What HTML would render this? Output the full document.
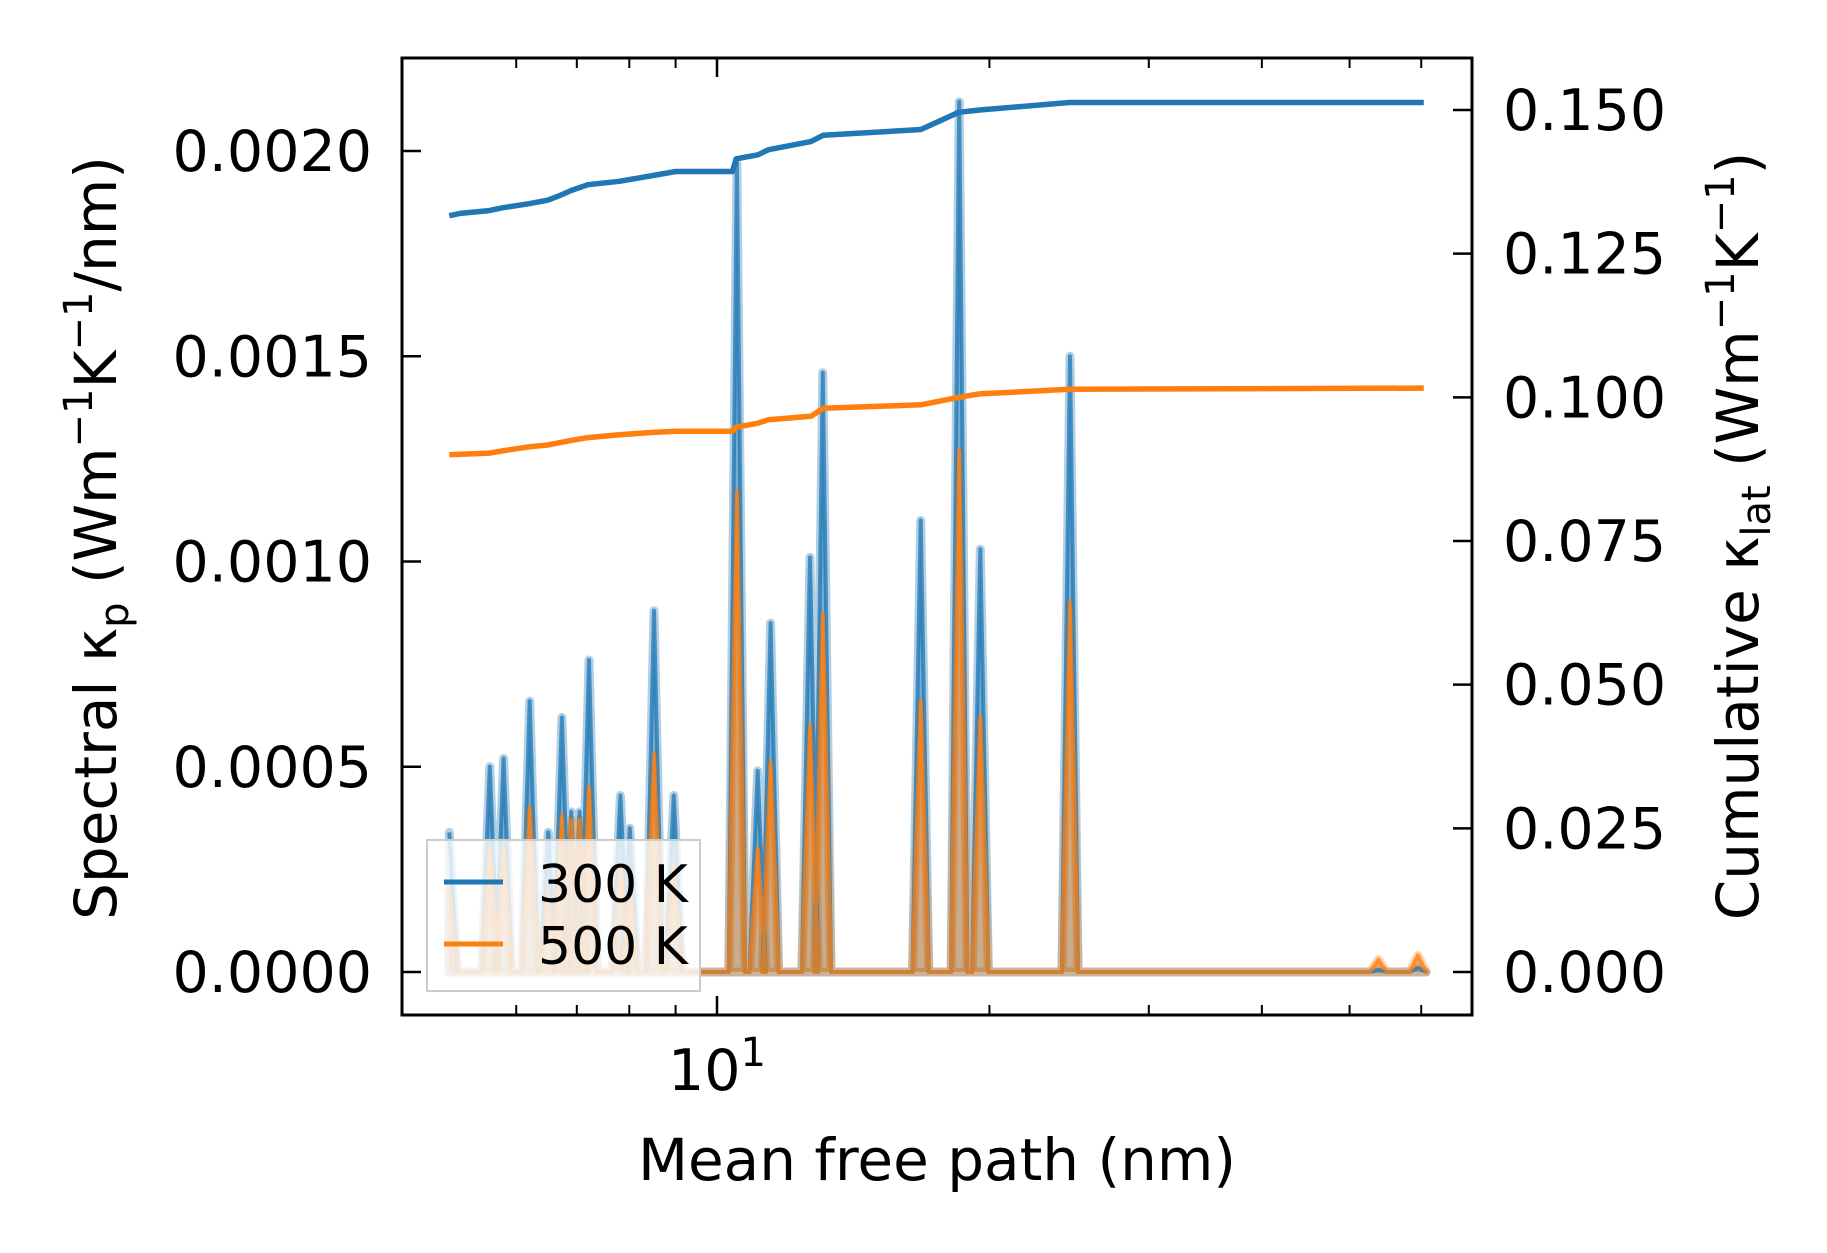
<!DOCTYPE html>
<html><head><meta charset="utf-8"><style>
html,body{margin:0;padding:0;background:#fff}
svg{display:block;font-family:"DejaVu Sans","Liberation Sans",sans-serif}
</style></head><body>
<svg id="chart" width="1827" height="1253" viewBox="0 0 1827 1253" xmlns="http://www.w3.org/2000/svg">
<rect width="1827" height="1253" fill="#fff"/>
<g id="fills"></g><g id="lines"></g><g id="axes"></g>
</svg>
<script>
// Data
const peakX   = [5.06,5.61,5.81,6.21,6.51,6.74,6.90,7.05,7.22,7.82,8.01,8.52,8.96,10.52,11.09,11.46,12.67,13.09,16.79,18.52,19.54,24.55,53.8,59.5];
const peak300 = [0.00034,0.0005,0.00052,0.00066,0.00034,0.00062,0.00039,0.00039,0.00076,0.00043,0.00035,0.00088,0.00043,0.00197,0.00049,0.00085,0.00101,0.00146,0.0011,0.00212,0.00103,0.0015,0.000005,0.00001];
const peak500 = [0.0002,0.0003,0.0003,0.0004,0.0002,0.00038,0.00037,0.00037,0.00045,0.00026,0.0002,0.00053,0.00026,0.00117,0.0003,0.00051,0.0006,0.00087,0.00066,0.00127,0.00062,0.0009,0.00003,0.00004];
const cumX   = [5.06,5.2,5.6,5.8,6.2,6.5,6.7,6.9,7.2,7.8,8.5,9.0,10.4,10.5,11.1,11.4,12.7,13.1,16.8,18.5,19.5,24.5,60.4];
const cum300 = [0.1316,0.1320,0.1325,0.1330,0.1337,0.1343,0.1351,0.1360,0.1370,0.1376,0.1386,0.1393,0.1393,0.1415,0.1422,0.1431,0.1445,0.1456,0.1466,0.1496,0.1500,0.1513,0.1513];
const cum500 = [0.0900,0.0901,0.0903,0.0907,0.0914,0.0917,0.0921,0.0925,0.0930,0.0935,0.0939,0.0941,0.0941,0.0948,0.0955,0.0961,0.0967,0.0981,0.0987,0.1000,0.1006,0.1014,0.1016];
const leftTicks  = [0,0.0005,0.0010,0.0015,0.0020];
const leftLabels = ["0.0000","0.0005","0.0010","0.0015","0.0020"];
const rightTicks = [0,0.025,0.05,0.075,0.1,0.125,0.15];
const rightLabels= ["0.000","0.025","0.050","0.075","0.100","0.125","0.150"];
const minorX = [6,7,8,9,20,30,40,50,60];

const L=402,R=1472,T=58,B=1015;
const xs=v=>717+905*Math.log10(v/10);
const yl=v=>972-v*(821/0.002);
const yr=v=>972-v*(862/0.15);
const NS="http://www.w3.org/2000/svg";
function mk(tag,attrs,parent,text){const e=document.createElementNS(NS,tag);for(const k in attrs)e.setAttribute(k,attrs[k]);if(text!==undefined)e.textContent=text;document.getElementById(parent).appendChild(e);return e;}

function spectralPts(vals){
  const pts=[];const w=0.009;
  pts.push([xs(peakX[0]),yl(vals[0])]);
  for(let i=0;i<peakX.length;i++){
    const lx=Math.log10(peakX[i]);
    if(i>0) pts.push([xs(Math.pow(10,lx-w)),yl(0)]);
    pts.push([xs(peakX[i]),yl(vals[i])]);
    pts.push([xs(Math.pow(10,lx+w)),yl(0)]);
  }
  pts.push([xs(60.4),yl(0)]);
  return pts;
}
function drawSpectral(vals,color,name){
  const pts=spectralPts(vals);
  const d="M"+pts.map(p=>p[0].toFixed(1)+","+p[1].toFixed(1)).join("L");
  const f=mk("path",{d:d+"L"+xs(60.4)+","+yl(0)+"L"+xs(5.06)+","+yl(0)+"Z",fill:color,"fill-opacity":0.4,stroke:color,"stroke-opacity":0.35,"stroke-width":9,"stroke-linejoin":"round"},"fills");
  
  
  const l=mk("path",{d:d,fill:"none",stroke:color,"stroke-width":4,"stroke-opacity":0.75,"stroke-linejoin":"round"},"lines");
  
  
}
drawSpectral(peak300,"#1f77b4","spectral-300k");
drawSpectral(peak500,"#ff7f0e","spectral-500k");
function drawCum(vals,color,name){
  let d="";
  for(let i=0;i<cumX.length;i++){d+=(i?"L":"M")+xs(cumX[i]).toFixed(1)+","+yr(vals[i]).toFixed(1);}
  const l=mk("path",{d:d,fill:"none",stroke:color,"stroke-width":5.5,"stroke-linejoin":"round"},"lines");
  
  
}
drawCum(cum300,"#1f77b4","cumulative-300k");
drawCum(cum500,"#ff7f0e","cumulative-500k");

// Axes
const fr=mk("rect",{x:L,y:T,width:R-L,height:B-T,fill:"none",stroke:"#000","stroke-width":3},"axes");


leftTicks.forEach((v,i)=>{
  const y=yl(v);
  mk("line",{x1:L,x2:L+19,y1:y,y2:y,stroke:"#000","stroke-width":2.5},"axes");
  const t=mk("text",{x:372,y:y+20,"text-anchor":"end","font-size":57},"axes",leftLabels[i]);
  
  
});
rightTicks.forEach((v,i)=>{
  const y=yr(v);
  mk("line",{x1:R-19,x2:R,y1:y,y2:y,stroke:"#000","stroke-width":2.5},"axes");
  const t=mk("text",{x:1503,y:y+20,"text-anchor":"start","font-size":57},"axes",rightLabels[i]);
  
  
});
mk("line",{x1:xs(10),x2:xs(10),y1:B,y2:B-19,stroke:"#000","stroke-width":2.5},"axes");
mk("line",{x1:xs(10),x2:xs(10),y1:T,y2:T+19,stroke:"#000","stroke-width":2.5},"axes");
minorX.forEach(v=>{const x=xs(v);
  mk("line",{x1:x,x2:x,y1:B,y2:B-10,stroke:"#000","stroke-width":2},"axes");
  mk("line",{x1:x,x2:x,y1:T,y2:T+10,stroke:"#000","stroke-width":2},"axes");});
</script>
<svg style="position:absolute;left:0;top:0" width="1827" height="1253" xmlns="http://www.w3.org/2000/svg">
<text x="717" y="1090" text-anchor="middle" font-size="57" font-family="DejaVu Sans, sans-serif">10<tspan dy="-24" font-size="40">1</tspan></text>
<text x="937" y="1180" text-anchor="middle" font-size="58" font-family="DejaVu Sans, sans-serif">Mean free path (nm)</text>
<text transform="translate(116,538) rotate(-90)" text-anchor="middle" font-size="58" font-family="DejaVu Sans, sans-serif">Spectral κ<tspan dy="12" font-size="40">p</tspan><tspan dy="-12"> (Wm</tspan><tspan dy="-24" font-size="40">−1</tspan><tspan dy="24">K</tspan><tspan dy="-24" font-size="40">−1</tspan><tspan dy="24">/nm)</tspan></text>
<text transform="translate(1758,536) rotate(-90)" text-anchor="middle" font-size="58" font-family="DejaVu Sans, sans-serif">Cumulative κ<tspan dy="12" font-size="40">lat</tspan><tspan dy="-12"> (Wm</tspan><tspan dy="-24" font-size="40">−1</tspan><tspan dy="24">K</tspan><tspan dy="-24" font-size="40">−1</tspan><tspan dy="24">)</tspan></text>
<g>
<rect x="427" y="840" width="273" height="151" fill="#fff" fill-opacity="0.8" stroke="#ccc" stroke-width="2"/>
<line x1="444" x2="503" y1="882" y2="882" stroke="#1f77b4" stroke-width="5"/>
<text x="538" y="902" font-size="52" font-family="DejaVu Sans, sans-serif">300 K</text>
<line x1="444" x2="503" y1="944" y2="944" stroke="#ff7f0e" stroke-width="5"/>
<text x="538" y="964" font-size="52" font-family="DejaVu Sans, sans-serif">500 K</text>
</g>
</svg>
</body></html>
